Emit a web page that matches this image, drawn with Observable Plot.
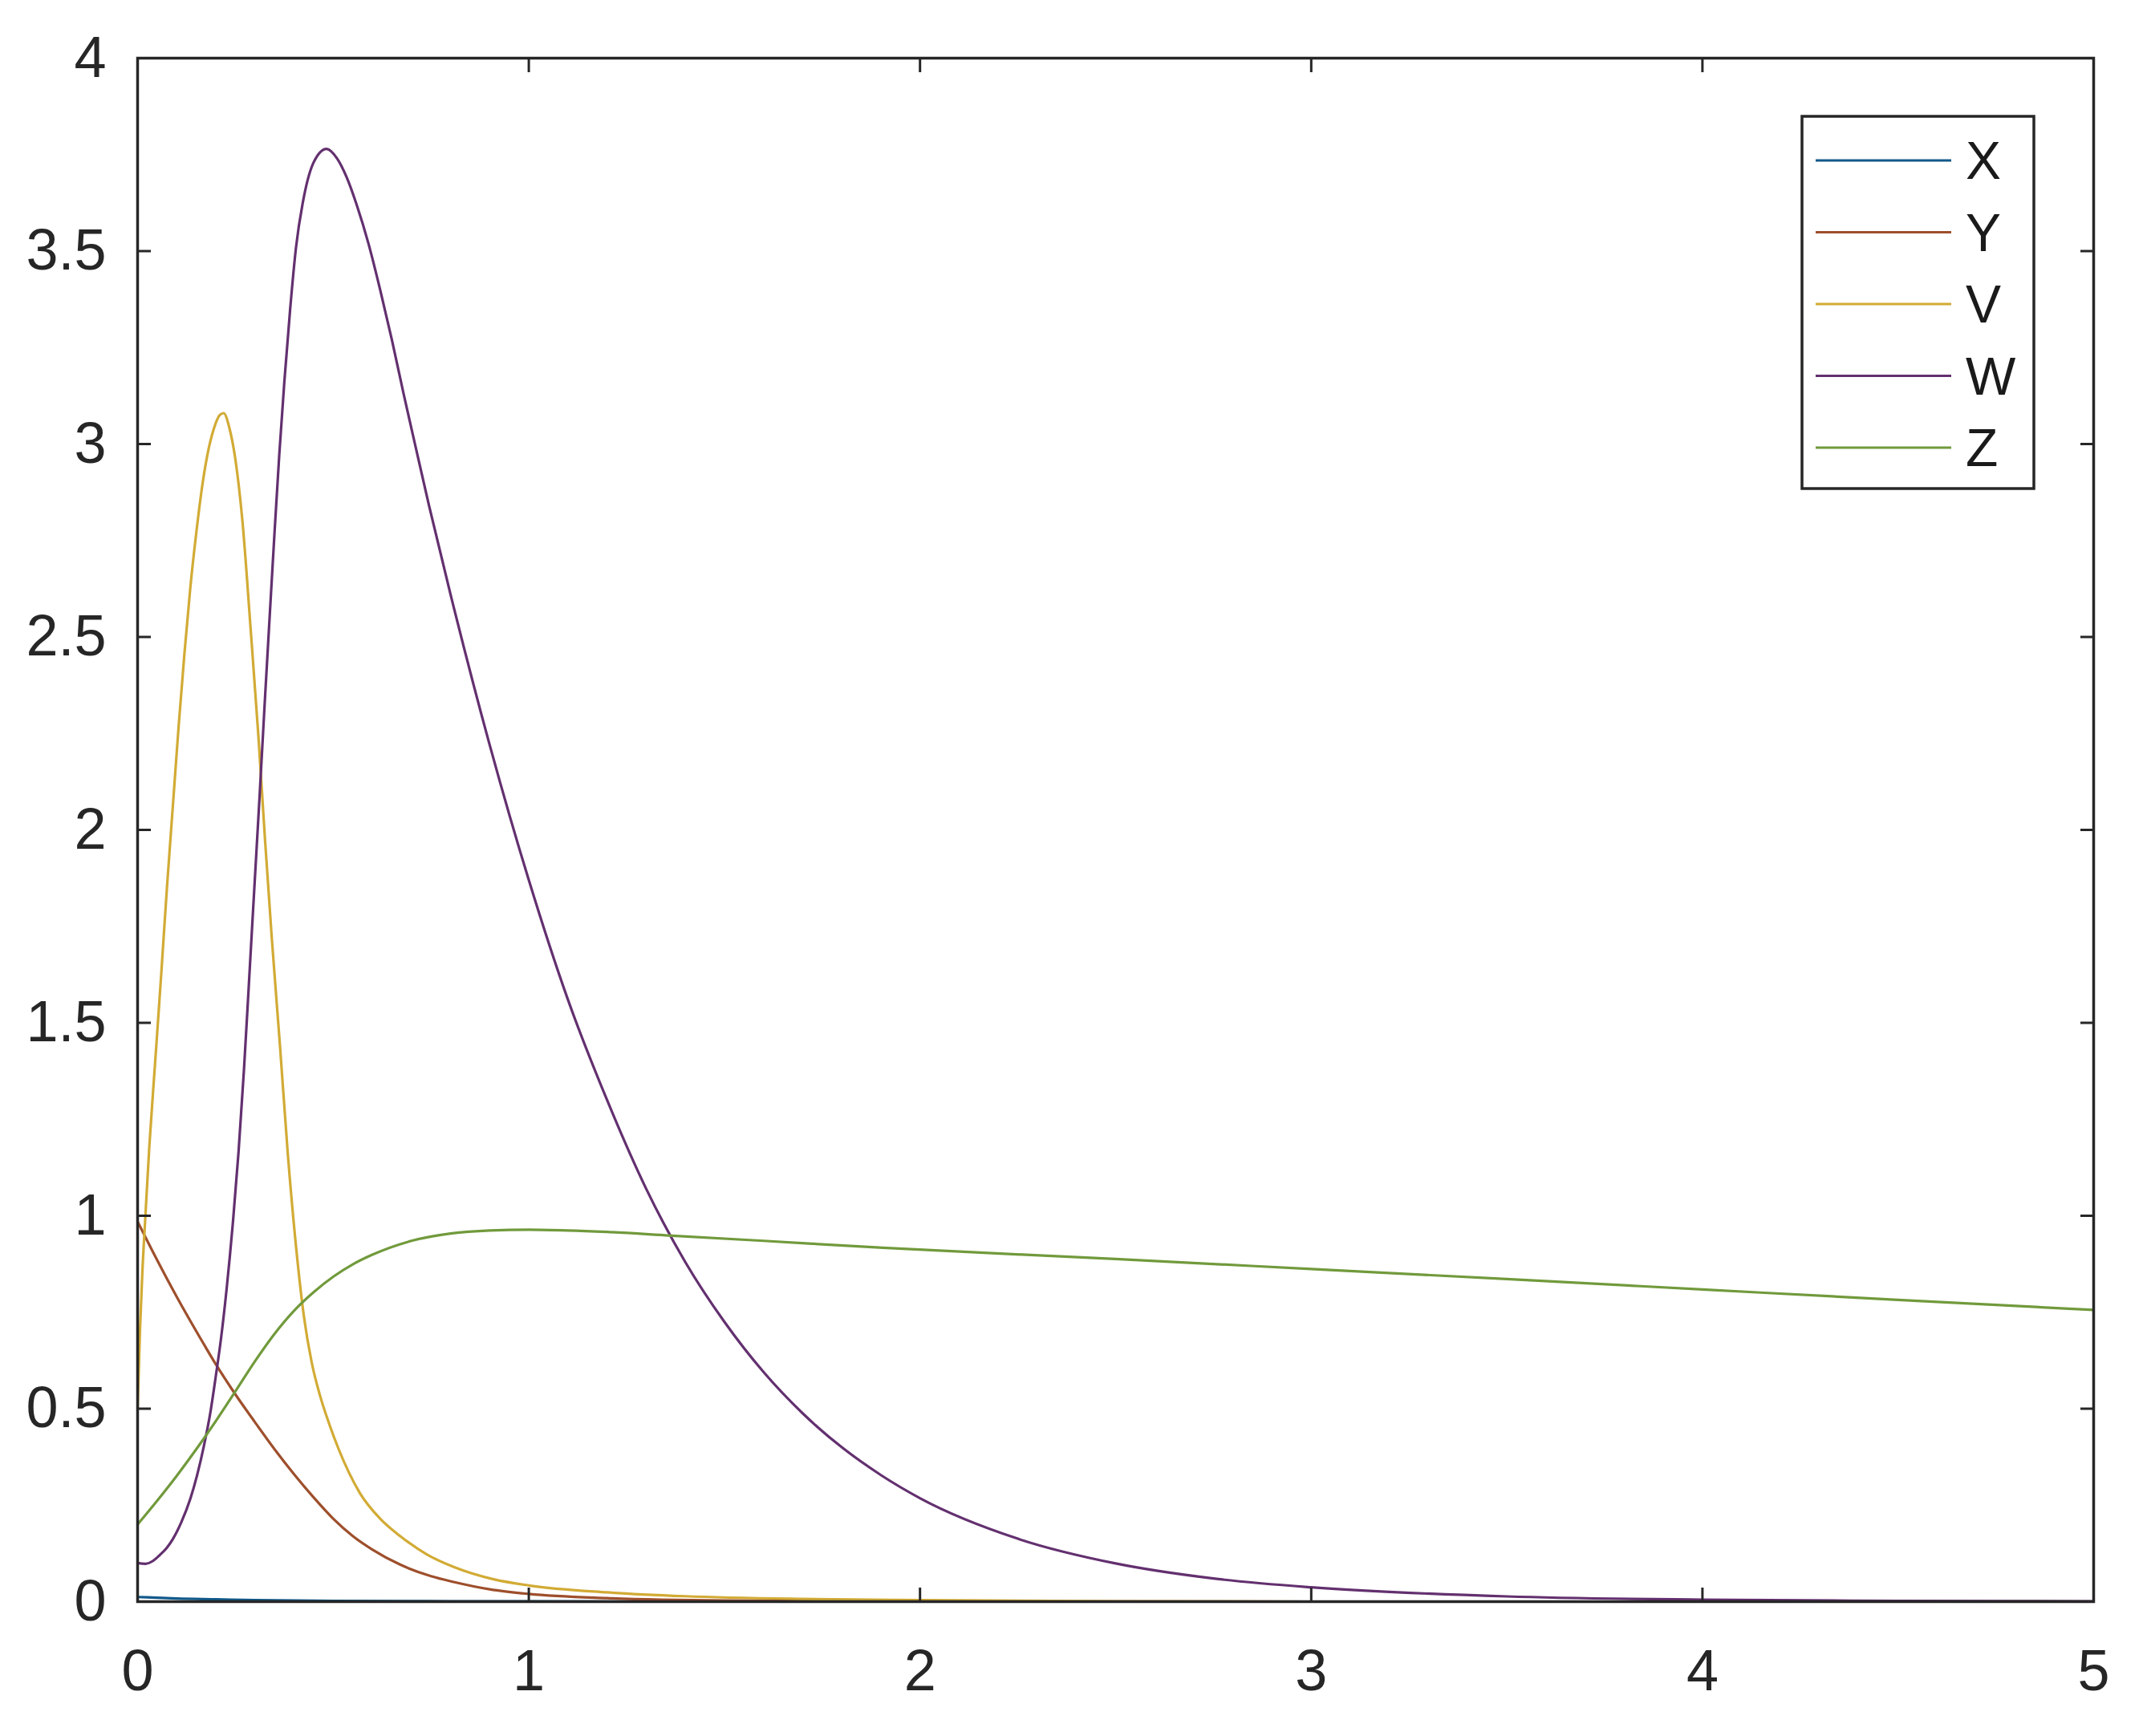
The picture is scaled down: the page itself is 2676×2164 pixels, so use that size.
<!DOCTYPE html>
<html>
<head>
<meta charset="utf-8">
<script src="https://cdn.jsdelivr.net/npm/d3@7"></script>
<script src="https://cdn.jsdelivr.net/npm/@observablehq/plot@0.6"></script>
<style>
  html, body { margin: 0; padding: 0; background: #ffffff; }
  #chart { width: 2676px; height: 2164px; }
</style>
</head>
<body>
<div id="chart"></div>
<script>
// ---------- data ----------
const seriesNames  = ["X", "Y", "V", "W", "Z"];
const seriesColors = ["#11598a", "#9e4f2c", "#d2ab35", "#63306f", "#719a3c"];
const xTicks = [0, 1, 2, 3, 4, 5];
const yTicks = [0, 0.5, 1, 1.5, 2, 2.5, 3, 3.5, 4];

const tX = [0, 0.05, 0.1, 0.2, 0.3, 0.5, 0.8, 1.2, 2, 3, 4, 5];
const valX = [0.012, 0.010, 0.008, 0.006, 0.004, 0.002, 0.001, 0.0005, 0, 0, 0, 0];

const tY = [0, 0.05, 0.1, 0.159, 0.2, 0.248, 0.3, 0.35, 0.4, 0.45, 0.5, 0.55, 0.6, 0.671, 0.75, 0.808, 0.9, 1.0, 1.2, 1.5, 2.0, 3.0, 4.0, 5.0];
const valY = [0.985, 0.885, 0.79, 0.685, 0.615, 0.54, 0.465, 0.395, 0.33, 0.27, 0.215, 0.17, 0.135, 0.096, 0.066, 0.051, 0.032, 0.02, 0.009, 0.003, 0.001, 0, 0, 0];

const tV = [0, 0.006, 0.012, 0.02, 0.03, 0.045, 0.06, 0.075, 0.09, 0.105, 0.12, 0.135, 0.15, 0.165, 0.18, 0.195, 0.21, 0.22, 0.235, 0.25, 0.268, 0.289, 0.309, 0.326, 0.343, 0.364, 0.384, 0.405, 0.425, 0.445, 0.466, 0.49, 0.514, 0.54, 0.569, 0.62, 0.671, 0.74, 0.808, 0.91, 1.0, 1.2, 1.4, 1.7, 2.0, 2.5, 3.0, 4.0, 5.0];
const valV = [0.50, 0.70, 0.85, 1.0, 1.18, 1.40, 1.62, 1.85, 2.06, 2.27, 2.46, 2.63, 2.77, 2.89, 2.98, 3.04, 3.075, 3.08, 3.04, 2.96, 2.80, 2.52, 2.24, 1.97, 1.72, 1.44, 1.16, 0.92, 0.74, 0.62, 0.535, 0.46, 0.395, 0.335, 0.28, 0.215, 0.17, 0.122, 0.09, 0.058, 0.042, 0.024, 0.014, 0.007, 0.004, 0.001, 0, 0, 0];

const tW = [0, 0.02, 0.04, 0.056, 0.075, 0.09, 0.111, 0.135, 0.152, 0.17, 0.186, 0.2, 0.213, 0.227, 0.244, 0.258, 0.272, 0.285, 0.299, 0.312, 0.325, 0.338, 0.35, 0.362, 0.375, 0.39, 0.405, 0.425, 0.45, 0.483, 0.51, 0.535, 0.56, 0.59, 0.62, 0.65, 0.68, 0.709, 0.745, 0.8, 0.9, 1.0, 1.1, 1.2, 1.3, 1.4, 1.5, 1.6, 1.7, 1.8, 1.9, 2.0, 2.25, 2.5, 2.75, 3.0, 3.5, 4.0, 4.5, 5.0];
const valW = [0.10, 0.098, 0.106, 0.12, 0.14, 0.162, 0.204, 0.267, 0.327, 0.406, 0.49, 0.585, 0.68, 0.805, 0.987, 1.165, 1.38, 1.61, 1.86, 2.09, 2.33, 2.56, 2.77, 2.97, 3.16, 3.35, 3.51, 3.64, 3.73, 3.765, 3.74, 3.69, 3.62, 3.52, 3.40, 3.27, 3.13, 3.00, 2.84, 2.61, 2.22, 1.87, 1.56, 1.30, 1.07, 0.88, 0.725, 0.595, 0.488, 0.400, 0.328, 0.268, 0.163, 0.099, 0.060, 0.037, 0.0135, 0.005, 0.002, 0.001];

const tZ = [0, 0.05, 0.1, 0.15, 0.2, 0.25, 0.3, 0.35, 0.4, 0.45, 0.5, 0.55, 0.6, 0.7, 0.8, 0.9, 1.0, 1.1, 1.2, 1.358, 1.6, 1.905, 2.5, 3.0, 3.5, 4.0, 4.5, 5.0];
const valZ = [0.20, 0.2615, 0.326, 0.395, 0.468, 0.545, 0.623, 0.694, 0.754, 0.802, 0.842, 0.874, 0.899, 0.935, 0.954, 0.962, 0.964, 0.962, 0.958, 0.949, 0.935, 0.917, 0.888, 0.862, 0.836, 0.809, 0.782, 0.756];

// ---------- build table ----------
const seriesT = [tX, tY, tV, tW, tZ];
const seriesV = [valX, valY, valV, valW, valZ];
const rows = [];
seriesNames.forEach((name, i) => {
  seriesT[i].forEach((t, j) => rows.push({series: name, t, v: seriesV[i][j]}));
});

// ---------- layout ----------
const W = 2676, H = 2164;
const mL = 171, mR = 67, mT = 72, mB = 168;
const tick = 17;
const font = "'Liberation Sans', Arial, Helvetica, sans-serif";

const chart = Plot.plot({
  width: W, height: H,
  marginLeft: mL, marginRight: mR, marginTop: mT, marginBottom: mB,
  style: {fontFamily: font, fontSize: "72px", background: "#ffffff", color: "#262626"},
  x: {domain: [0, 5], ticks: xTicks},
  y: {domain: [0, 4], ticks: yTicks},
  color: {domain: seriesNames, range: seriesColors},
  marks: [
    Plot.line(rows, {x: "t", y: "v", z: "series", stroke: "series", strokeWidth: 3.2, curve: "monotone-x"}),
    Plot.axisX({anchor: "bottom", ticks: xTicks, tickSize: -tick, tickPadding: 76, tickFormat: d => String(d), label: null, strokeWidth: 3, fill: "#262626"}),
    Plot.axisX({anchor: "top", ticks: xTicks, tickSize: -tick, tickFormat: () => "", label: null, strokeWidth: 3}),
    Plot.axisY({anchor: "left", ticks: yTicks, tickSize: -tick, tickPadding: 56, tickFormat: d => String(d), label: null, strokeWidth: 3, fill: "#262626"}),
    Plot.axisY({anchor: "right", ticks: yTicks, tickSize: -tick, tickFormat: () => "", label: null, strokeWidth: 3}),
    Plot.frame({stroke: "#262626", strokeWidth: 3.5})
  ]
});

// ---------- in-plot legend (MATLAB style, upper right) ----------
const svg = d3.select(chart);
const legW = 289, legH = 464;
const legX = W - mR - 74 - legW;
const legY = mT + 73;
const rowGap = 89.5;
const lg = svg.append("g").attr("class", "legend").attr("text-anchor", "start");
lg.append("rect")
  .attr("x", legX).attr("y", legY).attr("width", legW).attr("height", legH)
  .attr("fill", "#ffffff").attr("stroke", "#262626").attr("stroke-width", 3.5);
seriesNames.forEach((name, i) => {
  const cy = legY + 55 + i * rowGap;
  lg.append("line")
    .attr("x1", legX + 17).attr("x2", legX + 186)
    .attr("y1", cy).attr("y2", cy)
    .attr("stroke", seriesColors[i]).attr("stroke-width", 3.2);
  lg.append("text")
    .attr("x", legX + 204).attr("y", cy).attr("dy", "0.35em")
    .attr("text-anchor", "start")
    .attr("font-family", font).attr("font-size", 66).attr("fill", "#1a1a1a")
    .text(name);
});

document.getElementById("chart").appendChild(chart);
</script>
</body>
</html>
